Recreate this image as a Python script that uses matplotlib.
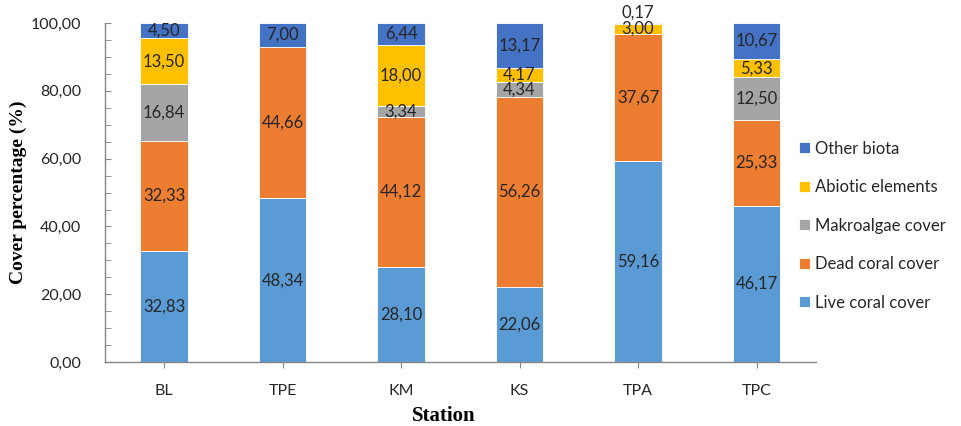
import matplotlib
matplotlib.use("Agg")
import matplotlib.pyplot as plt
import numpy as np

stations = ["BL", "TPE", "KM", "KS", "TPA", "TPC"]
live_coral = [32.83, 48.34, 28.10, 22.06, 59.16, 46.17]
dead_coral = [32.33, 44.66, 44.12, 56.26, 37.67, 25.33]
makroalgae = [16.84, 0.0, 3.34, 4.34, 0.0, 12.50]
abiotic = [13.50, 0.0, 18.00, 4.17, 3.00, 5.33]
other_biota = [4.50, 7.00, 6.44, 13.17, 0.17, 10.67]

series = [
    ("Live coral cover", live_coral, "#5B9BD5"),
    ("Dead coral cover", dead_coral, "#ED7D31"),
    ("Makroalgae cover", makroalgae, "#A5A5A5"),
    ("Abiotic elements", abiotic, "#FFC000"),
    ("Other biota", other_biota, "#4472C4"),
]

label_font = ["Lato", "DejaVu Sans"]
text_color = "#262626"

fig = plt.figure(figsize=(9.62, 4.26), dpi=100)
ax = fig.add_axes([0.109, 0.150, 0.739, 0.796])

x = np.arange(len(stations))
bottom = np.zeros(len(stations))
handles = []
for name, vals, color in series:
    vals = np.array(vals)
    bars = ax.bar(x, vals, 0.4, bottom=bottom, color=color, label=name,
                  edgecolor="white", linewidth=0.6)
    handles.append(bars)
    for xi, b, v in zip(x, bottom, vals):
        if v <= 0:
            continue
        txt = f"{v:.2f}".replace(".", ",")
        if v < 1:
            y = b + v + 3.2
        else:
            y = b + v / 2
        ax.text(xi, y, txt, ha="center", va="center", fontsize=12,
                color=text_color, family=label_font)
    bottom += vals

ax.set_xlim(-0.5, len(stations) - 0.5)
ax.set_ylim(0, 100)
ax.set_xticks(x)
ax.set_xticklabels(stations, family=label_font, fontsize=11.5, color=text_color)
ax.set_yticks(np.arange(0, 101, 20))
ax.set_yticklabels([f"{v:.2f}".replace(".", ",") for v in np.arange(0, 101, 20)],
                   family=label_font, fontsize=11.5, color=text_color)
ax.set_yticks(np.arange(0, 101, 5), minor=True)
ax.tick_params(axis="y", which="both", direction="in", length=4, color="#868686", pad=17)
ax.tick_params(axis="x", which="major", direction="out", length=4, color="#868686", pad=12)

for side in ("top", "right"):
    ax.spines[side].set_visible(False)
for side in ("left", "bottom"):
    ax.spines[side].set_color("#868686")
    ax.spines[side].set_linewidth(1.0)

ax.set_ylabel("Cover percentage (%)", family="Liberation Serif", fontweight="bold",
              fontsize=14, color="black")
ax.yaxis.set_label_coords(-0.110, 0.5)
ax.set_xlabel("Station", family="Liberation Serif", fontweight="bold",
              fontsize=15, color="black")
ax.xaxis.set_label_coords(0.477, -0.128)

leg = fig.legend(handles[::-1], [s[0] for s in series][::-1],
                 loc="center left", bbox_to_anchor=(0.815, 0.47),
                 frameon=False, prop={"family": label_font, "size": 12},
                 handlelength=0.65, handleheight=0.65, handletextpad=0.3,
                 labelspacing=1.35)
for t in leg.get_texts():
    t.set_color(text_color)

fig.savefig("out.png", dpi=100)
